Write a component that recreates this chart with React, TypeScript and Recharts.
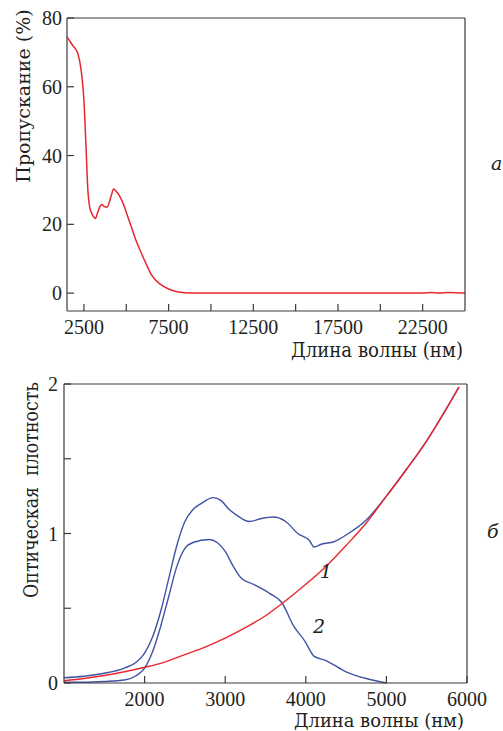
import { LineChart, Line, XAxis, YAxis } from 'recharts'

// (a) transmission spectrum
const transNm = [1500, 1600, 1800, 2000, 2150, 2300, 2400, 2500, 2560, 2640, 2720, 2840, 2950, 3100, 3175, 3300, 3450, 3550, 3700, 3870, 4000, 4150, 4250, 4400, 4600, 4900, 5000, 5300, 5600, 5900, 6200, 6500, 7000, 7500, 8000, 8500, 9000, 12000, 16000, 20000, 22500, 23000, 23500, 24000, 24500, 25000]
const transPct = [74.5, 73.8, 72.3, 71, 69.5, 66, 62, 56, 50, 40.5, 31, 25, 23.3, 22, 21.7, 23.3, 25.2, 25.8, 25.2, 25, 26.5, 29, 30.3, 29.6, 28.3, 25, 23.5, 19.2, 15, 11.5, 8.2, 5.2, 2.6, 1.2, 0.4, 0.1, 0, 0, 0, 0, 0, 0.15, 0, 0.15, 0.1, 0]
const transTicks = [2500, 5000, 7500, 10000, 12500, 15000, 17500, 20000, 22500]
const transTickLabels = [2500, 7500, 12500, 17500, 22500]
const transYTicks = [0, 20, 40, 60, 80]

// (б) optical density, curve 1 (red)
const redNm = [1000, 1250, 1500, 1750, 2000, 2250, 2500, 2750, 3000, 3250, 3500, 3750, 4000, 4250, 4500, 4750, 5000, 5250, 5500, 5750, 5900]
const redOd = [0.015, 0.03, 0.05, 0.075, 0.105, 0.14, 0.19, 0.24, 0.3, 0.37, 0.45, 0.55, 0.66, 0.78, 0.92, 1.07, 1.25, 1.43, 1.62, 1.84, 1.98]

// upper blue
const blueANm = [1000, 1250, 1500, 1750, 1900, 2000, 2100, 2200, 2300, 2400, 2500, 2600, 2700, 2850, 2950, 3050, 3150, 3300, 3450, 3600, 3750, 3900, 4050, 4100, 4200, 4350, 4500, 4750, 5000, 5250, 5500, 5750, 5900]
const blueAOd = [0.035, 0.045, 0.065, 0.1, 0.14, 0.2, 0.31, 0.48, 0.7, 0.92, 1.08, 1.16, 1.2, 1.24, 1.22, 1.16, 1.12, 1.08, 1.1, 1.11, 1.08, 1.0, 0.95, 0.91, 0.93, 0.945, 0.99, 1.09, 1.25, 1.43, 1.62, 1.84, 1.98]

// lower blue
const blueBNm = [1000, 1250, 1500, 1750, 1900, 2000, 2100, 2200, 2300, 2400, 2500, 2600, 2800, 2900, 3000, 3100, 3200, 3350, 3550, 3700, 3850, 4000, 4050, 4100, 4250, 4500, 4750, 5000]
const blueBOd = [0.005, 0.005, 0.01, 0.02, 0.05, 0.1, 0.21, 0.38, 0.58, 0.78, 0.9, 0.94, 0.96, 0.94, 0.88, 0.78, 0.7, 0.66, 0.6, 0.54, 0.38, 0.27, 0.22, 0.18, 0.15, 0.075, 0.03, 0]

const odXTicks = [2000, 3000, 4000, 5000, 6000]
const odYTicks = [0, 0.5, 1, 1.5, 2]
const odYTickLabels = [0, 1, 2]

const zip = (xs: number[], ys: number[]) => xs.map((nm, i) => ({ nm, v: ys[i] }))

// Liberation Serif here has no Cyrillic, so Russian titles use DejaVu Serif
const DIGITS = '"Liberation Serif", serif'
const CYR = '"DejaVu Serif", serif'
const INK = '#231f20'
const FRAME = '#3a3a3a'
const RED = '#e8262d'
const BLUE = '#4053a3'

const XTick = ({ x, y, payload, labels }: any) => (
  <g>
    <line x1={x} x2={x} y1={y} y2={y - 7} stroke={FRAME} strokeWidth={1.2} />
    {labels.includes(payload.value) && (
      <text x={x} y={y + 23} textAnchor="middle" style={{ fontFamily: DIGITS }} fontSize={20} fill={INK}>
        {payload.value}
      </text>
    )}
  </g>
)

const YTick = ({ x, y, payload, labels, gap }: any) => (
  <g>
    <line x1={x} x2={x + 7} y1={y} y2={y} stroke={FRAME} strokeWidth={1.2} />
    {labels.includes(payload.value) && (
      <text x={x - gap} y={y + 7} textAnchor="end" style={{ fontFamily: DIGITS }} fontSize={20} fill={INK}>
        {payload.value}
      </text>
    )}
  </g>
)

const axisLine = { stroke: FRAME, strokeWidth: 1.2 }

const frameAxes = (xDomain: number[], yDomain: number[]) => [
  <XAxis key="xt" xAxisId="top" orientation="top" type="number" domain={xDomain} height={1} tick={false} tickLine={false} axisLine={axisLine} />,
  <YAxis key="yr" yAxisId="right" orientation="right" type="number" domain={yDomain} width={1} tick={false} tickLine={false} axisLine={axisLine} />,
]

function TransmissionChart() {
  const data = zip(transNm, transPct)
  return (
    <LineChart width={503} height={370} margin={{ top: 17, right: 37, bottom: 58, left: 66 }}>
      <XAxis
        type="number"
        dataKey="nm"
        domain={[1500, 25000]}
        ticks={transTicks}
        interval={0}
        height={1}
        tickSize={0}
        tickMargin={0}
        tickLine={false}
        axisLine={axisLine}
        tick={(p: any) => <XTick {...p} labels={transTickLabels} />}
      />
      <YAxis
        type="number"
        domain={[-5.2, 80]}
        ticks={transYTicks}
        interval={0}
        width={1}
        tickSize={0}
        tickMargin={0}
        tickLine={false}
        axisLine={axisLine}
        tick={(p: any) => <YTick {...p} labels={transYTicks} gap={5} />}
      />
      {frameAxes([1500, 25000], [-5.2, 80])}
      <Line data={data} dataKey="v" type="monotone" stroke={RED} strokeWidth={1.5} dot={false} isAnimationActive={false} />
    </LineChart>
  )
}

function DensityChart() {
  return (
    <LineChart width={503} height={371} margin={{ top: 23, right: 35, bottom: 47, left: 63 }}>
      <XAxis
        type="number"
        dataKey="nm"
        domain={[1000, 6000]}
        ticks={odXTicks}
        interval={0}
        height={1}
        tickSize={0}
        tickMargin={0}
        tickLine={false}
        axisLine={axisLine}
        tick={(p: any) => <XTick {...p} labels={odXTicks} />}
      />
      <YAxis
        type="number"
        domain={[0, 2]}
        ticks={odYTicks}
        interval={0}
        width={1}
        tickSize={0}
        tickMargin={0}
        tickLine={false}
        axisLine={axisLine}
        tick={(p: any) => <YTick {...p} labels={odYTickLabels} gap={6} />}
      />
      {frameAxes([1000, 6000], [0, 2])}
      <Line data={zip(blueBNm, blueBOd)} dataKey="v" type="monotone" stroke={BLUE} strokeWidth={1.4} dot={false} isAnimationActive={false} />
      <Line data={zip(blueANm, blueAOd)} dataKey="v" type="monotone" stroke={BLUE} strokeWidth={1.4} dot={false} isAnimationActive={false} />
      <Line data={zip(redNm, redOd)} dataKey="v" type="monotone" stroke={RED} strokeWidth={1.4} dot={false} isAnimationActive={false} />
    </LineChart>
  )
}

export default function App() {
  const cyr = { style: { fontFamily: CYR, whiteSpace: 'pre' as const }, fill: INK, lengthAdjust: 'spacingAndGlyphs' }
  const ital = { style: { fontFamily: CYR, fontStyle: 'italic' as const }, fill: INK, fontSize: 19 }
  return (
    <div style={{ position: 'absolute', left: 0, top: 0, width: 503, height: 731, background: '#fff', overflow: 'hidden' }}>
      <div style={{ position: 'absolute', left: 0, top: 0 }}>
        <TransmissionChart />
      </div>
      <div style={{ position: 'absolute', left: 0, top: 360 }}>
        <DensityChart />
      </div>
      <svg width={503} height={731} style={{ position: 'absolute', left: 0, top: 0, pointerEvents: 'none' }}>
        <text style={{ fontFamily: CYR }} fill={INK} fontSize={19} textAnchor="middle" transform="translate(30,96) rotate(-90)">
          Пропускание (%)
        </text>
        <text {...cyr} fontSize={20} x={291} y={357} textLength={172}>
          Длина волны (нм)
        </text>
        <text {...ital} x={491} y={170}>
          а
        </text>
        <text {...cyr} fontSize={20} textAnchor="middle" textLength={216} transform="translate(38,490) rotate(-90)">
          {'Оптическая  плотность'}
        </text>
        <text {...cyr} fontSize={18} x={294} y={727} textLength={170}>
          Длина волны (нм)
        </text>
        <text {...ital} x={487} y={538}>
          б
        </text>
        <text {...ital} x={320} y={578}>
          1
        </text>
        <text {...ital} x={313} y={633}>
          2
        </text>
      </svg>
    </div>
  )
}
